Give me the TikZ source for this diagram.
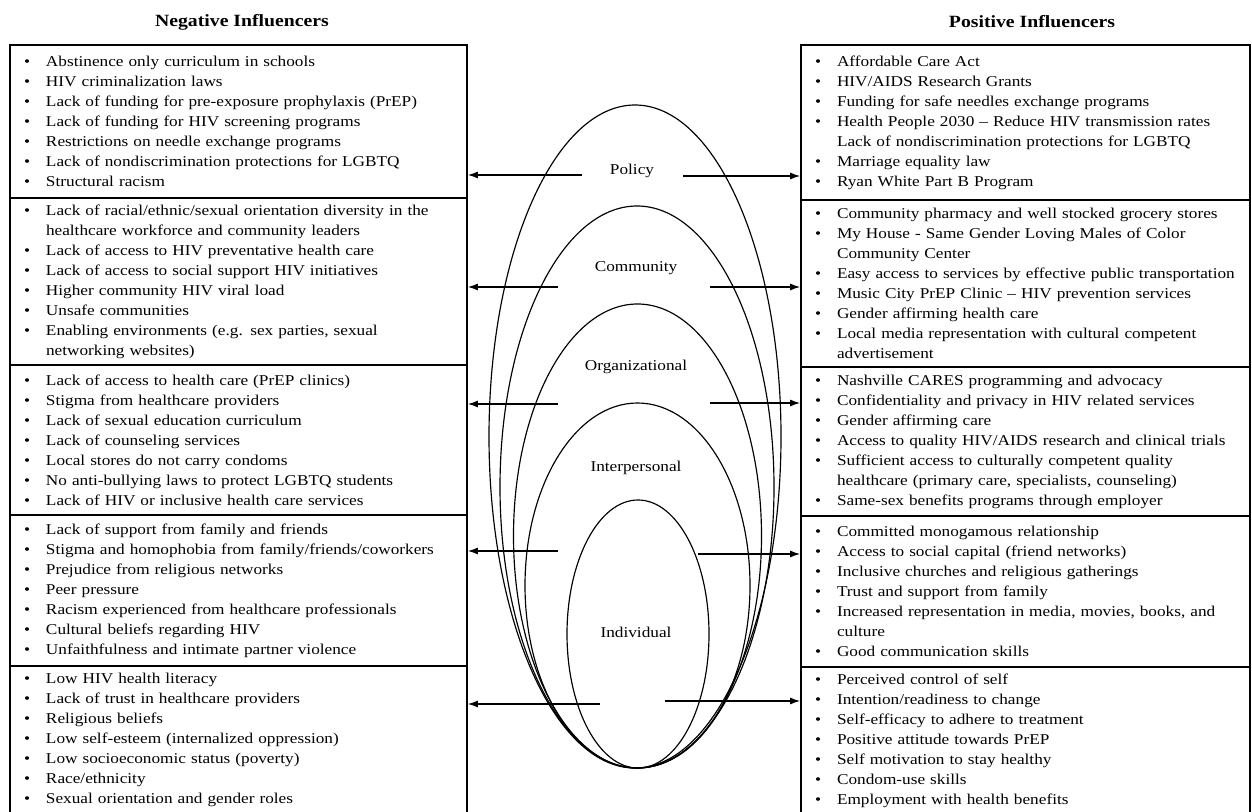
\documentclass[tikz,border=0pt]{standalone}
\usepackage{fontspec}
\setmainfont{Liberation Serif}[FakeStretch=1.15]
\usepackage{tikz}
\usetikzlibrary{arrows.meta, positioning, calc}
\newcommand{\bitem}{\makebox[13.2pt][l]{\textbullet}}
\newcommand{\bcont}{\hspace*{13.2pt}}

\begin{document}
\begin{tikzpicture}[x=0.6pt, y=-0.6pt,
    sect/.style={rectangle, draw, line width=1pt, text width=#1, align=left,
        inner xsep=8.4pt, inner ysep=0pt, font=\fontsize{9}{12}\selectfont},
    head/.style={font=\fontsize{10.3}{12}\selectfont\bfseries},
    lvl/.style={font=\fontsize{9}{12}\selectfont, text height=6.5pt, text depth=2pt, inner sep=0pt},
    ring/.style={line width=0.7pt},
    arr/.style={-{Latex[length=6pt, width=4.2pt]}, line width=0.8pt}
]
\useasboundingbox (0,0) rectangle (1252,812);

% Headers
\node[head] (neghead) at (242,22) {Negative Influencers};
\node[head] (poshead) at (1032,22) {Positive Influencers};

% Negative influencers
\node[sect=257.4pt, minimum height=91.8pt] (npol) at (238.5,121.5) {%
\bitem Abstinence only curriculum in schools\\
\bitem HIV criminalization laws\\
\bitem Lack of funding for pre-exposure prophylaxis (PrEP)\\
\bitem Lack of funding for HIV screening programs\\
\bitem Restrictions on needle exchange programs\\
\bitem Lack of nondiscrimination protections for LGBTQ\\
\bitem Structural racism};
\node[sect=257.4pt, minimum height=100.2pt] (ncom) at (238.5,281.5) {%
\bitem Lack of racial/ethnic/sexual orientation diversity in the\\
\bcont healthcare workforce and community leaders\\
\bitem Lack of access to HIV preventative health care\\
\bitem Lack of access to social support HIV initiatives\\
\bitem Higher community HIV viral load\\
\bitem Unsafe communities\\
\bitem Enabling environments (e.g. sex parties, sexual\\
\bcont networking websites)};
\node[sect=257.4pt, minimum height=90pt] (norg) at (238.5,440) {%
\bitem Lack of access to health care (PrEP clinics)\\
\bitem Stigma from healthcare providers\\
\bitem Lack of sexual education curriculum\\
\bitem Lack of counseling services\\
\bitem Local stores do not carry condoms\\
\bitem No anti-bullying laws to protect LGBTQ students\\
\bitem Lack of HIV or inclusive health care services};
\node[sect=257.4pt, minimum height=90.6pt] (nint) at (238.5,590.5) {%
\bitem Lack of support from family and friends\\
\bitem Stigma and homophobia from family/friends/coworkers\\
\bitem Prejudice from religious networks\\
\bitem Peer pressure\\
\bitem Racism experienced from healthcare professionals\\
\bitem Cultural beliefs regarding HIV\\
\bitem Unfaithfulness and intimate partner violence};
\node[sect=257.4pt, minimum height=88.2pt] (nind) at (238.5,739.5) {%
\bitem Low HIV health literacy\\
\bitem Lack of trust in healthcare providers\\
\bitem Religious beliefs\\
\bitem Low self-esteem (internalized oppression)\\
\bitem Low socioeconomic status (poverty)\\
\bitem Race/ethnicity\\
\bitem Sexual orientation and gender roles};

% Positive influencers
\node[sect=252.6pt, minimum height=93pt] (ppol) at (1025.5,122.5) {%
\bitem Affordable Care Act\\
\bitem HIV/AIDS Research Grants\\
\bitem Funding for safe needles exchange programs\\
\bitem Health People 2030 -- Reduce HIV transmission rates\\
\bcont Lack of nondiscrimination protections for LGBTQ\\
\bitem Marriage equality law\\
\bitem Ryan White Part B Program};
\node[sect=252.6pt, minimum height=100.2pt] (pcom) at (1025.5,283.5) {%
\bitem Community pharmacy and well stocked grocery stores\\
\bitem My House - Same Gender Loving Males of Color\\
\bcont Community Center\\
\bitem Easy access to services by effective public transportation\\
\bitem Music City PrEP Clinic -- HIV prevention services\\
\bitem Gender affirming health care\\
\bitem Local media representation with cultural competent\\
\bcont advertisement};
\node[sect=252.6pt, minimum height=89.4pt] (porg) at (1025.5,441.5) {%
\bitem Nashville CARES programming and advocacy\\
\bitem Confidentiality and privacy in HIV related services\\
\bitem Gender affirming care\\
\bitem Access to quality HIV/AIDS research and clinical trials\\
\bitem Sufficient access to culturally competent quality\\
\bcont healthcare (primary care, specialists, counseling)\\
\bitem Same-sex benefits programs through employer};
\node[sect=252.6pt, minimum height=90.6pt] (pint) at (1025.5,591.5) {%
\bitem Committed monogamous relationship\\
\bitem Access to social capital (friend networks)\\
\bitem Inclusive churches and religious gatherings\\
\bitem Trust and support from family\\
\bitem Increased representation in media, movies, books, and\\
\bcont culture\\
\bitem Good communication skills};
\node[sect=252.6pt, minimum height=88.2pt] (pind) at (1025.5,740.5) {%
\bitem Perceived control of self\\
\bitem Intention/readiness to change\\
\bitem Self-efficacy to adhere to treatment\\
\bitem Positive attitude towards PrEP\\
\bitem Self motivation to stay healthy\\
\bitem Condom-use skills\\
\bitem Employment with health benefits};

% Nested levels
\draw[ring] (635,436.5) ellipse [x radius=87.6pt, y radius=198.9pt];
\draw[ring] (637,487) ellipse [x radius=82.2pt, y radius=168.6pt];
\draw[ring] (637.5,536) ellipse [x radius=74.4pt, y radius=139.2pt];
\draw[ring] (637.5,585.5) ellipse [x radius=67.5pt, y radius=109.5pt];
\draw[ring] (638,634) ellipse [x radius=42.6pt, y radius=80.4pt];

\node[lvl] (lpol) at (632,171) {Policy};
\node[lvl] (lcom) at (636,268) {Community};
\node[lvl] (lorg) at (636,367) {Organizational};
\node[lvl] (lint) at (636,468) {Interpersonal};
\node[lvl] (lind) at (636,634) {Individual};

% Arrow ends
\coordinate (polL) at (582,175);
\coordinate (polR) at (683,176);
\coordinate (comL) at (558,287);
\coordinate (comR) at (710,287);
\coordinate (orgL) at (558,404);
\coordinate (orgR) at (710,403);
\coordinate (intL) at (558,551);
\coordinate (intR) at (698,554);
\coordinate (indL) at (600,704);
\coordinate (indR) at (665,701);

\draw[arr] (polL) -- (polL -| npol.east);
\draw[arr] (polR) -- (polR -| ppol.west);
\draw[arr] (comL) -- (comL -| ncom.east);
\draw[arr] (comR) -- (comR -| pcom.west);
\draw[arr] (orgL) -- (orgL -| norg.east);
\draw[arr] (orgR) -- (orgR -| porg.west);
\draw[arr] (intL) -- (intL -| nint.east);
\draw[arr] (intR) -- (intR -| pint.west);
\draw[arr] (indL) -- (indL -| nind.east);
\draw[arr] (indR) -- (indR -| pind.west);

\end{tikzpicture}
\end{document}
